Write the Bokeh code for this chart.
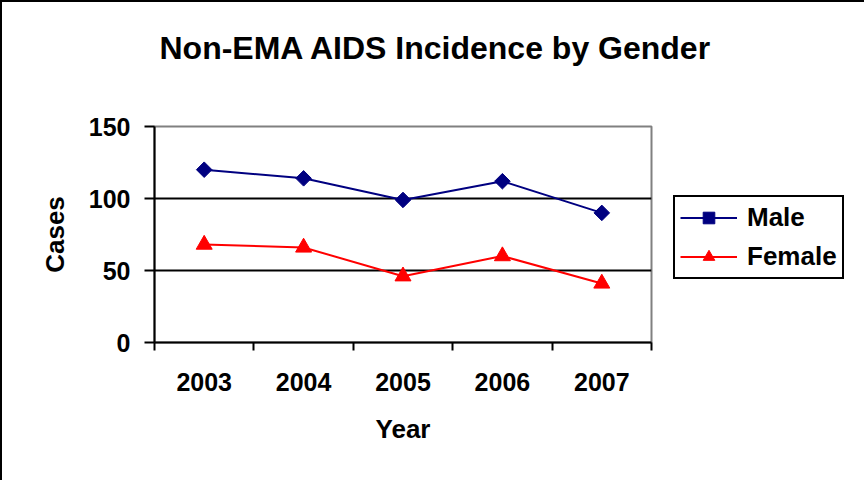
import numpy as np
from bokeh.plotting import figure
from bokeh.models import (Range1d, FixedTicker, Legend, LegendItem, ColumnDataSource, LinearAxis)
from bokeh.embed import file_html
from bokeh.resources import INLINE

years = ["2003", "2004", "2005", "2006", "2007"]
male = [120, 114, 99, 112, 90]
female = [68, 66, 46, 60, 41]
y_ticks = [0, 50, 100, 150]

FONT = "Liberation Sans"

xpos = [i + 0.5 for i in range(len(years))]

p = figure(frame_width=497, frame_height=216, output_backend="svg", toolbar_location=None,
           x_range=Range1d(0, len(years)), y_range=Range1d(0, 150),
           min_border_left=152, min_border_top=0, min_border_right=203, min_border_bottom=138)
p.styles = {"border-left": "2px solid black", "border-top": "2px solid black"}
p.background_fill_color = "white"
p.border_fill_color = "white"
p.outline_line_color = "#808080"
p.outline_line_width = 2

p.title.text = "Non-EMA AIDS Incidence by Gender"
p.title.align = "left"
p.title.offset = 5
p.title.vertical_align = "top"
p.title.standoff = 54
p.title.text_font = FONT
p.title.text_font_style = "bold"
p.title.text_font_size = "32px"
p.title.text_color = "black"

# x axis (below)
xa = p.below[0]
xa.ticker = FixedTicker(ticks=xpos, minor_ticks=list(range(len(years) + 1)))
xa.major_label_overrides = {x: y for x, y in zip(xpos, years)}
xa.major_tick_line_color = None
xa.major_tick_out = 8
xa.major_tick_in = 0
xa.minor_tick_line_color = "black"
xa.minor_tick_line_width = 2
xa.minor_tick_out = 8
xa.minor_tick_in = 0
xa.axis_line_color = "black"
xa.axis_line_width = 2
xa.major_label_text_font = FONT
xa.major_label_text_font_style = "bold"
xa.major_label_text_font_size = "25px"
xa.major_label_text_color = "black"
xa.major_label_standoff = 22
xa.axis_label = "Year"
xa.axis_label_text_font = FONT
xa.axis_label_text_font_style = "bold"
xa.axis_label_text_font_size = "26px"
xa.axis_label_text_color = "black"
xa.axis_label_standoff = 20

# y axis
ya = p.left[0]
ya.ticker = FixedTicker(ticks=y_ticks)
ya.major_tick_line_color = "black"
ya.major_tick_line_width = 2
ya.major_tick_out = 10
ya.major_tick_in = 0
ya.minor_tick_line_color = None
ya.axis_line_color = "black"
ya.axis_line_width = 2
ya.major_label_text_font = FONT
ya.major_label_text_font_style = "bold"
ya.major_label_text_font_size = "25px"
ya.major_label_text_color = "black"
ya.major_label_standoff = 14
ya.axis_label = "Cases"
ya.axis_label_text_font = FONT
ya.axis_label_text_font_style = "bold"
ya.axis_label_text_font_size = "26px"
ya.axis_label_text_color = "black"
ya.axis_label_standoff = 16

# invisible spacer axis between title and frame
spacer = LinearAxis(ticker=FixedTicker(ticks=[0.0]), axis_line_color=None,
                    major_tick_line_color="white", major_tick_line_alpha=0.01,
                    minor_tick_line_color=None,
                    major_tick_out=32, major_tick_in=0, minor_tick_out=0, minor_tick_in=0,
                    major_label_standoff=0, major_label_text_font_size="1px",
                    major_label_text_alpha=0.0, major_label_overrides={0.0: " "})
p.add_layout(spacer, "above")

p.xgrid.visible = False
p.ygrid.ticker = FixedTicker(ticks=y_ticks)
p.ygrid.grid_line_color = "black"
p.ygrid.grid_line_width = 2

src = ColumnDataSource(dict(x=xpos, male=male, female=female))

ml = p.line("x", "male", source=src, line_color="#000080", line_width=2)
ms = p.scatter("x", "male", source=src, marker="square", angle=np.pi / 4, size=11,
               fill_color="#000080", line_color="#000080")
fl = p.line("x", "female", source=src, line_color="#FF0000", line_width=2)
fs = p.scatter("x", "female", source=src, marker="triangle", size=16,
               fill_color="#FF0000", line_color="#FF0000")

legend = Legend(items=[LegendItem(label="Male", renderers=[ml, ms]),
                       LegendItem(label="Female", renderers=[fl, fs])],
                location=(22, 63), margin=0, padding=5, spacing=8,
                glyph_width=57, glyph_height=29, label_height=29, label_standoff=10,
                border_line_color="black", border_line_width=2, border_line_alpha=1.0,
                label_text_font=FONT, label_text_font_style="bold",
                label_text_color="black",
                label_text_font_size="26px", background_fill_color="white",
                background_fill_alpha=1.0)
p.add_layout(legend, "right")

open("out.html", "w").write(file_html(p, INLINE))
